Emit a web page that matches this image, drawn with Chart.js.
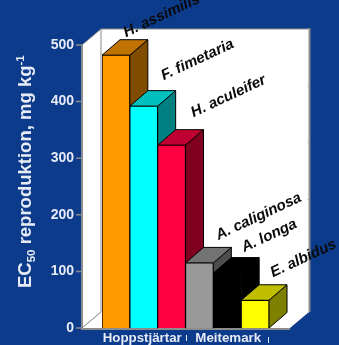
<!DOCTYPE html>
<html>
<head>
<meta charset="utf-8">
<title>EC50 reproduktion</title>
<script src="https://cdn.jsdelivr.net/npm/chart.js@4"></script>
<style>
    html, body { margin: 0; padding: 0; background: #0c3b8c; }
    #wrap { position: relative; width: 339px; height: 345px; overflow: hidden; }
</style>
</head>
<body>
<div id="wrap"><canvas id="ecChart" width="339" height="345"></canvas></div>
<script>
const species = ['H. assimilis', 'F. fimetaria', 'H. aculeifer', 'A. caliginosa', 'A. longa', 'E. albidus'];
const ec50Values = [482, 392, 323, 115, 97, 49];
const yTicks = [0, 100, 200, 300, 400, 500];
const groupNames = ['Hoppstjärtar', 'Meitemark'];

const frontColors = ['#ff9900', '#00ffff', '#ff0040', '#999999', '#000000', '#ffff00'];
const topColors = ['#bf7300', '#00bfbf', '#bf0030', '#737373', '#000000', '#bfbf00'];
const sideColors = ['#804d00', '#008080', '#800020', '#4d4d4d', '#000000', '#808000'];

const FONT = '"Liberation Sans", Arial, sans-serif';
const TEXT = '#e6ebf5';
const GREY = '#8c8c8c';
const barDepth = { x: 18, y: 15.5 };
const wallDepth = { x: 19, y: 16 };

// small per-label nudges for the slanted species names
const nudgeX = [10, 20, 22, 19, 17, 18];
const nudgeY = [18, 26, 28, 23, 21, 23];

function poly(ctx, pts, fill, stroke) {
    ctx.beginPath();
    pts.forEach((p, i) => i ? ctx.lineTo(p[0], p[1]) : ctx.moveTo(p[0], p[1]));
    ctx.closePath();
    ctx.fillStyle = fill;
    ctx.fill();
    if (stroke) {
        ctx.strokeStyle = stroke;
        ctx.lineWidth = 1;
        ctx.stroke();
    }
}

// walls and floor behind the bars, plus the tick marks
const walls = {
    id: 'walls',
    beforeDatasetsDraw(chart) {
        const { ctx, scales: { y } } = chart;
        const top = y.getPixelForValue(500);
        const bottom = y.getPixelForValue(0);
        const left = 82, right = 290;
        const dx = wallDepth.x, dy = wallDepth.y;
        ctx.save();
        poly(ctx, [[left, top], [left + dx, top - dy], [left + dx, bottom - dy], [left, bottom]], '#ffffff');
        poly(ctx, [[left + dx, top - dy], [right + dx, top - dy], [right + dx, bottom - dy], [left + dx, bottom - dy]], '#ffffff');
        poly(ctx, [[left, bottom], [left + dx, bottom - dy], [right + dx, bottom - dy], [right, bottom]], '#ffffff');

        ctx.strokeStyle = GREY;
        ctx.lineWidth = 1;
        ctx.beginPath();
        ctx.moveTo(left, top); ctx.lineTo(left + dx, top - dy);
        ctx.lineTo(right + dx, top - dy);
        ctx.moveTo(left + dx, top - dy); ctx.lineTo(left + dx, bottom - dy); ctx.lineTo(left, bottom);
        ctx.stroke();

        // right edge of the back wall and the two front axis lines
        ctx.lineWidth = 2;
        ctx.beginPath();
        ctx.moveTo(right + dx + 0.5, top - dy - 1); ctx.lineTo(right + dx + 0.5, bottom - dy);
        ctx.moveTo(left, top); ctx.lineTo(left, bottom + 1); ctx.lineTo(right, bottom + 1);
        ctx.stroke();

        ctx.lineWidth = 1.5;
        ctx.beginPath();
        yTicks.forEach(v => {
            const py = y.getPixelForValue(v);
            ctx.moveTo(76, py); ctx.lineTo(left, py);
        });
        ctx.stroke();

        // faint marks on the back wall edge at each tick
        ctx.strokeStyle = '#c8c8c8';
        ctx.lineWidth = 1;
        ctx.beginPath();
        yTicks.forEach(v => {
            const py = Math.round(y.getPixelForValue(v) - dy) + 0.5;
            ctx.moveTo(right + dx - 2, py); ctx.lineTo(right + dx, py);
        });
        ctx.stroke();
        ctx.restore();

        // top and side faces, left to right so each covers the one before
        const bars = chart.getDatasetMeta(0).data;
        ctx.save();
        ctx.lineJoin = 'round';
        bars.forEach((bar, i) => {
            const half = bar.width / 2;
            const x0 = bar.x - half, x1 = bar.x + half;
            const t = bar.y, b = bar.base;
            const ddx = barDepth.x, ddy = barDepth.y;
            poly(ctx, [[x1, t], [x1 + ddx, t - ddy], [x1 + ddx, b - ddy], [x1, b]], sideColors[i], '#000000');
            poly(ctx, [[x0, t], [x0 + ddx, t - ddy], [x1 + ddx, t - ddy], [x1, t]], topColors[i], '#000000');
        });
        ctx.restore();
    },
    afterDraw(chart) {
        const { ctx, scales: { x } } = chart;
        const bars = chart.getDatasetMeta(0).data;
        ctx.save();

        // slanted species names above the bars
        ctx.fillStyle = '#0a0a0a';
        ctx.font = 'italic bold 15px ' + FONT;
        ctx.textAlign = 'left';
        ctx.textBaseline = 'alphabetic';
        bars.forEach((bar, i) => {
            ctx.save();
            ctx.translate(bar.x + nudgeX[i], bar.y - nudgeY[i]);
            ctx.rotate(-25 * Math.PI / 180);
            ctx.fillText(species[i], 0, 0);
            ctx.restore();
        });

        // group names below the axis
        ctx.fillStyle = TEXT;
        ctx.font = 'bold 13.3px ' + FONT;
        ctx.textBaseline = 'alphabetic';
        ctx.textAlign = 'center';
        ctx.fillText(groupNames[0], (x.getPixelForValue(0) + x.getPixelForValue(2)) / 2 - 1.5, 342);
        ctx.fillText(groupNames[1], (x.getPixelForValue(3) + x.getPixelForValue(5)) / 2 + 1, 342);
        ctx.strokeStyle = TEXT;
        ctx.lineWidth = 1;
        ctx.beginPath();
        ctx.moveTo(186.5, 335); ctx.lineTo(186.5, 341);
        ctx.moveTo(268.5, 337); ctx.lineTo(268.5, 343);
        ctx.stroke();

        // axis title, drawn in pieces for the sub- and superscript
        ctx.translate(31, 288);
        ctx.rotate(-Math.PI / 2);
        ctx.textAlign = 'left';
        let cursor = 0;
        const piece = (text, size, shift) => {
            ctx.font = 'bold ' + size + 'px ' + FONT;
            ctx.fillText(text, cursor, shift);
            cursor += ctx.measureText(text).width;
        };
        piece('EC', 18.5, 0);
        piece('50', 11.5, 4);
        piece(' reproduktion, mg kg', 18.5, 0);
        piece('-1', 11.5, -7);
        ctx.restore();
    }
};

new Chart(document.getElementById('ecChart'), {
    type: 'bar',
    data: {
        labels: species,
        datasets: [{
            data: ec50Values,
            backgroundColor: frontColors,
            borderColor: '#000000',
            borderWidth: 1,
            barPercentage: 1,
            categoryPercentage: 1
        }]
    },
    options: {
        responsive: false,
        animation: false,
        layout: { padding: { top: 45, right: 70, bottom: 17 } },
        plugins: { legend: { display: false }, tooltip: { enabled: false } },
        scales: {
            x: {
                display: false
            },
            y: {
                min: 0,
                max: 500,
                afterFit(scale) { scale.width = 102; },
                afterBuildTicks(scale) { scale.ticks = yTicks.map(v => ({ value: v })); },
                // a long tick length keeps the labels left of the side wall
                grid: { display: false, drawTicks: true, tickLength: 26 },
                border: { display: false },
                ticks: {
                    padding: 2,
                    color: TEXT,
                    font: { family: FONT, size: 14, weight: 'bold' }
                }
            }
        }
    },
    plugins: [walls]
});
</script>
</body>
</html>
